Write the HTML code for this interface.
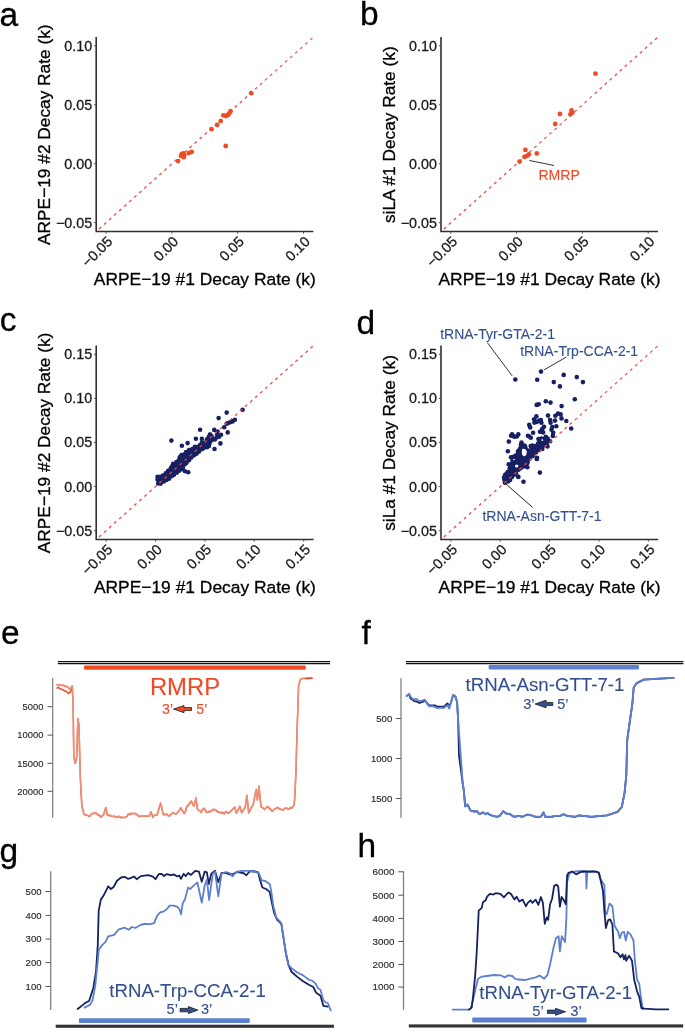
<!DOCTYPE html>
<html><head><meta charset="utf-8"><style>
html,body{margin:0;padding:0;background:#fff;}
svg{display:block;}
svg{will-change:transform;}
svg text{font-family:"Liberation Sans", sans-serif;}
</style></head><body>
<svg width="685" height="1033" viewBox="0 0 685 1033">
<rect width="685" height="1033" fill="#fff"/>
<line x1="96.20" y1="231.50" x2="313.40" y2="37.00" stroke="#F04A42" stroke-width="1.25" stroke-dasharray="3 3.75" stroke-dashoffset="3"/>
<g fill="#EE4A24"><circle cx="251.2" cy="93.2" r="2.4"/><circle cx="230.5" cy="111.2" r="2.4"/><circle cx="229.2" cy="113.4" r="2.4"/><circle cx="227.9" cy="115.0" r="2.4"/><circle cx="225.9" cy="116.0" r="2.4"/><circle cx="223.3" cy="115.3" r="2.4"/><circle cx="220.7" cy="121.1" r="2.4"/><circle cx="217.2" cy="124.9" r="2.4"/><circle cx="211.5" cy="129.2" r="2.4"/><circle cx="225.7" cy="146.0" r="2.4"/><circle cx="191.6" cy="151.9" r="2.4"/><circle cx="188.8" cy="153.1" r="2.4"/><circle cx="181.8" cy="154.1" r="2.4"/><circle cx="183.4" cy="153.5" r="2.4"/><circle cx="181.0" cy="155.9" r="2.4"/><circle cx="183.7" cy="157.2" r="2.4"/><circle cx="184.3" cy="155.1" r="2.4"/><circle cx="178.1" cy="161.1" r="2.4"/></g>
<path d="M96.20 37.00 V231.50 H313.40" fill="none" stroke="#303030" stroke-width="1.6"/>
<line x1="94.00" y1="222.66" x2="96.20" y2="222.66" stroke="#444" stroke-width="0.9"/>
<text x="92.10" y="227.61" font-size="14.3" fill="#1a1a1a" stroke="#1a1a1a" stroke-width="0.3" text-anchor="end">&#8722;0.05</text>
<line x1="94.00" y1="163.72" x2="96.20" y2="163.72" stroke="#444" stroke-width="0.9"/>
<text x="92.10" y="168.67" font-size="14.3" fill="#1a1a1a" stroke="#1a1a1a" stroke-width="0.3" text-anchor="end">0.00</text>
<line x1="94.00" y1="104.78" x2="96.20" y2="104.78" stroke="#444" stroke-width="0.9"/>
<text x="92.10" y="109.73" font-size="14.3" fill="#1a1a1a" stroke="#1a1a1a" stroke-width="0.3" text-anchor="end">0.05</text>
<line x1="94.00" y1="45.84" x2="96.20" y2="45.84" stroke="#444" stroke-width="0.9"/>
<text x="92.10" y="50.79" font-size="14.3" fill="#1a1a1a" stroke="#1a1a1a" stroke-width="0.3" text-anchor="end">0.10</text>
<line x1="106.07" y1="231.50" x2="106.07" y2="233.70" stroke="#444" stroke-width="0.9"/>
<text x="113.37" y="242.40" font-size="14.3" fill="#1a1a1a" stroke="#1a1a1a" stroke-width="0.3" text-anchor="end" transform="rotate(-45 113.37 242.40)">&#8722;0.05</text>
<line x1="171.89" y1="231.50" x2="171.89" y2="233.70" stroke="#444" stroke-width="0.9"/>
<text x="179.19" y="242.40" font-size="14.3" fill="#1a1a1a" stroke="#1a1a1a" stroke-width="0.3" text-anchor="end" transform="rotate(-45 179.19 242.40)">0.00</text>
<line x1="237.71" y1="231.50" x2="237.71" y2="233.70" stroke="#444" stroke-width="0.9"/>
<text x="245.01" y="242.40" font-size="14.3" fill="#1a1a1a" stroke="#1a1a1a" stroke-width="0.3" text-anchor="end" transform="rotate(-45 245.01 242.40)">0.05</text>
<line x1="303.53" y1="231.50" x2="303.53" y2="233.70" stroke="#444" stroke-width="0.9"/>
<text x="310.83" y="242.40" font-size="14.3" fill="#1a1a1a" stroke="#1a1a1a" stroke-width="0.3" text-anchor="end" transform="rotate(-45 310.83 242.40)">0.10</text>
<text x="204.80" y="284.90" font-size="17.4" fill="#000" stroke="#000" stroke-width="0.3" text-anchor="middle" textLength="222" lengthAdjust="spacingAndGlyphs">ARPE&#8722;19 #1 Decay Rate (k)</text>
<text x="50.10" y="134.70" font-size="17.3" fill="#000" stroke="#000" stroke-width="0.3" text-anchor="middle" transform="rotate(-90 50.10 134.70)">ARPE&#8722;19 #2 Decay Rate (k)</text>
<line x1="441.00" y1="231.50" x2="658.00" y2="37.00" stroke="#F04A42" stroke-width="1.25" stroke-dasharray="3 3.75" stroke-dashoffset="3"/>
<g fill="#EE4A24"><circle cx="595.5" cy="73.7" r="2.4"/><circle cx="559.9" cy="114.0" r="2.4"/><circle cx="555.2" cy="124.0" r="2.4"/><circle cx="571.5" cy="110.5" r="2.4"/><circle cx="572.4" cy="112.6" r="2.4"/><circle cx="570.4" cy="114.3" r="2.4"/><circle cx="525.4" cy="149.9" r="2.4"/><circle cx="536.8" cy="153.4" r="2.4"/><circle cx="528.9" cy="154.3" r="2.4"/><circle cx="527.2" cy="155.8" r="2.4"/><circle cx="524.5" cy="156.9" r="2.4"/><circle cx="519.6" cy="161.6" r="2.4"/></g>
<path d="M441.00 37.00 V231.50 H658.00" fill="none" stroke="#303030" stroke-width="1.6"/>
<line x1="438.80" y1="222.66" x2="441.00" y2="222.66" stroke="#444" stroke-width="0.9"/>
<text x="436.90" y="227.61" font-size="14.3" fill="#1a1a1a" stroke="#1a1a1a" stroke-width="0.3" text-anchor="end">&#8722;0.05</text>
<line x1="438.80" y1="163.72" x2="441.00" y2="163.72" stroke="#444" stroke-width="0.9"/>
<text x="436.90" y="168.67" font-size="14.3" fill="#1a1a1a" stroke="#1a1a1a" stroke-width="0.3" text-anchor="end">0.00</text>
<line x1="438.80" y1="104.78" x2="441.00" y2="104.78" stroke="#444" stroke-width="0.9"/>
<text x="436.90" y="109.73" font-size="14.3" fill="#1a1a1a" stroke="#1a1a1a" stroke-width="0.3" text-anchor="end">0.05</text>
<line x1="438.80" y1="45.84" x2="441.00" y2="45.84" stroke="#444" stroke-width="0.9"/>
<text x="436.90" y="50.79" font-size="14.3" fill="#1a1a1a" stroke="#1a1a1a" stroke-width="0.3" text-anchor="end">0.10</text>
<line x1="450.86" y1="231.50" x2="450.86" y2="233.70" stroke="#444" stroke-width="0.9"/>
<text x="458.16" y="242.40" font-size="14.3" fill="#1a1a1a" stroke="#1a1a1a" stroke-width="0.3" text-anchor="end" transform="rotate(-45 458.16 242.40)">&#8722;0.05</text>
<line x1="516.62" y1="231.50" x2="516.62" y2="233.70" stroke="#444" stroke-width="0.9"/>
<text x="523.92" y="242.40" font-size="14.3" fill="#1a1a1a" stroke="#1a1a1a" stroke-width="0.3" text-anchor="end" transform="rotate(-45 523.92 242.40)">0.00</text>
<line x1="582.38" y1="231.50" x2="582.38" y2="233.70" stroke="#444" stroke-width="0.9"/>
<text x="589.68" y="242.40" font-size="14.3" fill="#1a1a1a" stroke="#1a1a1a" stroke-width="0.3" text-anchor="end" transform="rotate(-45 589.68 242.40)">0.05</text>
<line x1="648.14" y1="231.50" x2="648.14" y2="233.70" stroke="#444" stroke-width="0.9"/>
<text x="655.44" y="242.40" font-size="14.3" fill="#1a1a1a" stroke="#1a1a1a" stroke-width="0.3" text-anchor="end" transform="rotate(-45 655.44 242.40)">0.10</text>
<text x="549.50" y="284.90" font-size="17.4" fill="#000" stroke="#000" stroke-width="0.3" text-anchor="middle" textLength="222" lengthAdjust="spacingAndGlyphs">ARPE&#8722;19 #1 Decay Rate (k)</text>
<text x="394.90" y="134.70" font-size="17.3" fill="#000" stroke="#000" stroke-width="0.3" text-anchor="middle" transform="rotate(-90 394.90 134.70)">siLA #1 Decay Rate (k)</text>
<line x1="529.4" y1="160.5" x2="554" y2="165.5" stroke="#333" stroke-width="1"/>
<text x="538.40" y="179.90" font-size="14.1" fill="#EE4A24" stroke="#EE4A24" stroke-width="0.1" text-anchor="start">RMRP</text>
<g fill="#172063"><polygon points="157.3,476.9 158.0,482.6 158.2,483.5 159.4,483.8 160.8,483.6 162.7,482.2 162.8,482.0 165.2,480.5 165.5,480.4 167.8,479.3 168.0,479.2 169.0,478.9 169.8,477.7 169.9,477.5 170.0,477.4 170.2,477.3 170.3,477.1 172.6,475.4 172.8,475.3 172.9,475.2 174.5,474.5 176.0,473.2 176.1,473.2 178.4,471.4 180.4,469.7 180.6,469.6 180.7,469.5 180.9,469.4 181.1,469.3 181.4,469.3 181.6,469.2 181.8,469.2 182.0,469.2 182.2,469.3 182.4,469.3 182.6,469.4 183.2,469.6 183.1,469.5 183.0,469.3 182.9,469.1 182.9,468.9 182.8,468.7 182.8,468.5 182.8,468.3 182.8,468.1 182.9,467.9 182.9,467.7 183.5,466.0 183.6,465.8 183.7,465.6 183.8,465.5 183.9,465.3 184.1,465.2 186.5,462.8 186.6,462.6 188.4,461.1 190.1,458.7 190.3,458.6 190.4,458.4 192.8,456.1 192.9,456.0 193.1,455.9 196.5,453.6 198.7,451.9 201.0,450.0 201.1,449.8 204.1,447.7 204.3,447.6 204.5,447.5 204.7,447.4 207.7,446.5 208.8,445.4 210.4,441.6 210.5,441.4 210.6,441.2 210.8,441.0 211.0,440.9 212.8,439.2 212.8,437.7 211.4,436.3 210.7,436.2 210.0,436.9 208.4,439.6 208.2,439.7 208.1,439.9 207.9,440.1 205.0,442.5 204.8,442.6 204.6,442.7 204.4,442.8 204.2,442.9 204.0,442.9 203.8,443.0 203.6,443.0 203.3,443.0 203.1,442.9 202.0,442.7 201.3,443.7 201.2,443.9 201.1,444.0 198.8,446.4 198.6,446.6 198.5,446.7 198.3,446.8 198.1,446.9 197.9,447.0 197.7,447.0 197.5,447.1 197.3,447.1 197.1,447.1 196.9,447.1 196.7,447.0 196.5,447.0 196.3,446.9 196.1,446.8 195.4,446.4 192.2,449.1 192.1,449.3 191.9,449.4 191.7,449.5 191.6,449.6 191.4,449.6 191.2,449.7 189.4,449.9 187.3,450.4 184.3,454.3 184.2,454.5 184.0,454.6 183.9,454.8 183.7,454.9 183.5,455.0 183.3,455.1 183.0,455.1 182.8,455.2 182.6,455.2 182.4,455.2 182.2,455.1 180.8,454.9 179.7,456.7 179.6,458.7 179.5,458.9 179.5,459.1 179.4,459.3 179.3,459.5 179.2,459.7 179.1,459.9 178.9,460.1 178.7,460.2 176.5,462.0 174.8,463.4 174.6,463.5 174.4,463.6 174.2,463.7 174.0,463.8 173.8,463.8 173.6,463.9 173.4,463.9 173.2,463.9 173.0,463.8 172.5,463.7 172.4,463.8 172.1,466.4 172.0,466.6 172.0,466.8 171.9,467.0 171.8,467.2 171.7,467.4 171.5,467.5 171.4,467.7 169.6,469.4 167.4,471.7 167.3,471.8 164.9,474.1 164.8,474.2 164.7,474.3 163.0,475.5 162.8,475.6 162.5,475.7 159.6,476.9 159.4,477.0 159.2,477.0 159.0,477.1 158.8,477.1 158.5,477.1 157.3,476.9"/><circle cx="157.5" cy="476.9" r="2.3"/><circle cx="157.6" cy="479.7" r="2.3"/><circle cx="158.2" cy="483.5" r="2.3"/><circle cx="160.7" cy="483.6" r="2.3"/><circle cx="163.8" cy="481.5" r="2.3"/><circle cx="166.4" cy="480.0" r="2.3"/><circle cx="169.0" cy="478.8" r="2.3"/><circle cx="171.6" cy="476.2" r="2.3"/><circle cx="173.9" cy="474.8" r="2.3"/><circle cx="176.9" cy="472.6" r="2.3"/><circle cx="179.1" cy="470.8" r="2.3"/><circle cx="181.8" cy="469.2" r="2.3"/><circle cx="183.0" cy="467.5" r="2.3"/><circle cx="184.9" cy="464.3" r="2.3"/><circle cx="186.6" cy="462.7" r="2.3"/><circle cx="189.0" cy="460.3" r="2.3"/><circle cx="191.4" cy="457.5" r="2.3"/><circle cx="194.1" cy="455.2" r="2.3"/><circle cx="196.5" cy="453.7" r="2.3"/><circle cx="198.9" cy="451.8" r="2.3"/><circle cx="201.9" cy="449.3" r="2.3"/><circle cx="203.6" cy="448.1" r="2.3"/><circle cx="207.5" cy="446.5" r="2.3"/><circle cx="209.1" cy="444.6" r="2.3"/><circle cx="210.3" cy="441.8" r="2.3"/><circle cx="212.5" cy="439.5" r="2.3"/><circle cx="211.7" cy="436.6" r="2.3"/><circle cx="209.1" cy="438.4" r="2.3"/><circle cx="207.6" cy="440.3" r="2.3"/><circle cx="204.7" cy="442.7" r="2.3"/><circle cx="201.7" cy="443.1" r="2.3"/><circle cx="199.8" cy="445.3" r="2.3"/><circle cx="197.1" cy="447.1" r="2.3"/><circle cx="194.8" cy="446.9" r="2.3"/><circle cx="192.3" cy="449.1" r="2.3"/><circle cx="189.1" cy="450.0" r="2.3"/><circle cx="186.1" cy="452.0" r="2.3"/><circle cx="184.4" cy="454.3" r="2.3"/><circle cx="181.5" cy="455.0" r="2.3"/><circle cx="179.7" cy="457.4" r="2.3"/><circle cx="178.8" cy="460.2" r="2.3"/><circle cx="176.4" cy="462.1" r="2.3"/><circle cx="173.1" cy="463.9" r="2.3"/><circle cx="172.1" cy="466.2" r="2.3"/><circle cx="170.7" cy="468.4" r="2.3"/><circle cx="168.1" cy="470.9" r="2.3"/><circle cx="165.8" cy="473.2" r="2.3"/><circle cx="163.0" cy="475.5" r="2.3"/><circle cx="160.2" cy="476.7" r="2.3"/><circle cx="242.6" cy="409.7" r="2.3"/><circle cx="226.7" cy="412.6" r="2.3"/><circle cx="218.6" cy="418.1" r="2.3"/><circle cx="234.9" cy="419.7" r="2.3"/><circle cx="232.6" cy="421.4" r="2.3"/><circle cx="230.3" cy="422.3" r="2.3"/><circle cx="228.0" cy="423.0" r="2.3"/><circle cx="226.7" cy="423.7" r="2.3"/><circle cx="224.2" cy="427.3" r="2.3"/><circle cx="227.7" cy="432.4" r="2.3"/><circle cx="214.2" cy="429.9" r="2.3"/><circle cx="217.5" cy="431.5" r="2.3"/><circle cx="221.1" cy="434.8" r="2.3"/><circle cx="219.1" cy="436.8" r="2.3"/><circle cx="216.5" cy="437.5" r="2.3"/><circle cx="214.9" cy="439.4" r="2.3"/><circle cx="217.2" cy="434.2" r="2.3"/><circle cx="210.3" cy="434.8" r="2.3"/><circle cx="208.9" cy="436.8" r="2.3"/><circle cx="220.4" cy="443.4" r="2.3"/><circle cx="214.5" cy="449.0" r="2.3"/><circle cx="207.0" cy="439.4" r="2.3"/><circle cx="206.3" cy="442.7" r="2.3"/><circle cx="208.9" cy="446.0" r="2.3"/><circle cx="207.0" cy="447.3" r="2.3"/><circle cx="200.1" cy="429.7" r="2.3"/><circle cx="195.9" cy="438.7" r="2.3"/><circle cx="201.9" cy="438.9" r="2.3"/><circle cx="187.6" cy="443.1" r="2.3"/><circle cx="181.9" cy="445.7" r="2.3"/><circle cx="171.4" cy="440.6" r="2.3"/><circle cx="210.0" cy="434.6" r="2.3"/><circle cx="185.0" cy="471.2" r="2.3"/><circle cx="188.2" cy="472.3" r="2.3"/></g>
<line x1="96.20" y1="539.50" x2="313.60" y2="345.50" stroke="#F04A42" stroke-width="1.25" stroke-dasharray="3 3.75" stroke-dashoffset="3"/>
<path d="M96.20 345.50 V539.50 H313.60" fill="none" stroke="#303030" stroke-width="1.6"/>
<line x1="94.00" y1="530.68" x2="96.20" y2="530.68" stroke="#444" stroke-width="0.9"/>
<text x="92.10" y="535.63" font-size="14.3" fill="#1a1a1a" stroke="#1a1a1a" stroke-width="0.3" text-anchor="end">&#8722;0.05</text>
<line x1="94.00" y1="486.59" x2="96.20" y2="486.59" stroke="#444" stroke-width="0.9"/>
<text x="92.10" y="491.54" font-size="14.3" fill="#1a1a1a" stroke="#1a1a1a" stroke-width="0.3" text-anchor="end">0.00</text>
<line x1="94.00" y1="442.50" x2="96.20" y2="442.50" stroke="#444" stroke-width="0.9"/>
<text x="92.10" y="447.45" font-size="14.3" fill="#1a1a1a" stroke="#1a1a1a" stroke-width="0.3" text-anchor="end">0.05</text>
<line x1="94.00" y1="398.41" x2="96.20" y2="398.41" stroke="#444" stroke-width="0.9"/>
<text x="92.10" y="403.36" font-size="14.3" fill="#1a1a1a" stroke="#1a1a1a" stroke-width="0.3" text-anchor="end">0.10</text>
<line x1="94.00" y1="354.32" x2="96.20" y2="354.32" stroke="#444" stroke-width="0.9"/>
<text x="92.10" y="359.27" font-size="14.3" fill="#1a1a1a" stroke="#1a1a1a" stroke-width="0.3" text-anchor="end">0.15</text>
<line x1="106.08" y1="539.50" x2="106.08" y2="541.70" stroke="#444" stroke-width="0.9"/>
<text x="113.38" y="550.40" font-size="14.3" fill="#1a1a1a" stroke="#1a1a1a" stroke-width="0.3" text-anchor="end" transform="rotate(-45 113.38 550.40)">&#8722;0.05</text>
<line x1="155.49" y1="539.50" x2="155.49" y2="541.70" stroke="#444" stroke-width="0.9"/>
<text x="162.79" y="550.40" font-size="14.3" fill="#1a1a1a" stroke="#1a1a1a" stroke-width="0.3" text-anchor="end" transform="rotate(-45 162.79 550.40)">0.00</text>
<line x1="204.90" y1="539.50" x2="204.90" y2="541.70" stroke="#444" stroke-width="0.9"/>
<text x="212.20" y="550.40" font-size="14.3" fill="#1a1a1a" stroke="#1a1a1a" stroke-width="0.3" text-anchor="end" transform="rotate(-45 212.20 550.40)">0.05</text>
<line x1="254.31" y1="539.50" x2="254.31" y2="541.70" stroke="#444" stroke-width="0.9"/>
<text x="261.61" y="550.40" font-size="14.3" fill="#1a1a1a" stroke="#1a1a1a" stroke-width="0.3" text-anchor="end" transform="rotate(-45 261.61 550.40)">0.10</text>
<line x1="303.72" y1="539.50" x2="303.72" y2="541.70" stroke="#444" stroke-width="0.9"/>
<text x="311.02" y="550.40" font-size="14.3" fill="#1a1a1a" stroke="#1a1a1a" stroke-width="0.3" text-anchor="end" transform="rotate(-45 311.02 550.40)">0.15</text>
<text x="204.90" y="592.90" font-size="17.4" fill="#000" stroke="#000" stroke-width="0.3" text-anchor="middle" textLength="222" lengthAdjust="spacingAndGlyphs">ARPE&#8722;19 #1 Decay Rate (k)</text>
<text x="50.10" y="442.95" font-size="17.3" fill="#000" stroke="#000" stroke-width="0.3" text-anchor="middle" transform="rotate(-90 50.10 442.95)">ARPE&#8722;19 #2 Decay Rate (k)</text>
<g fill="#172063"><polygon points="504.4,479.9 504.5,479.9 505.0,483.0 505.1,483.0 508.4,481.3 510.6,479.7 511.1,478.1 511.2,477.9 511.3,477.8 511.4,477.6 511.5,477.4 511.7,477.3 515.3,473.6 518.8,469.4 519.0,469.3 519.1,469.1 519.2,469.0 519.4,468.9 524.3,466.1 526.8,462.9 529.7,458.6 529.8,458.4 530.0,458.3 532.9,455.4 535.8,452.5 535.9,452.3 536.0,452.2 539.0,450.0 541.7,448.0 543.3,446.0 543.5,445.9 543.6,445.7 543.8,445.6 544.0,445.5 544.2,445.4 546.2,444.6 548.4,442.0 548.7,440.1 547.2,438.1 545.7,438.6 545.5,438.6 545.3,438.7 541.5,439.2 539.9,441.3 537.8,444.9 537.7,445.1 537.6,445.2 537.4,445.4 533.7,449.0 533.6,449.1 533.4,449.2 533.2,449.3 530.3,450.8 530.1,450.9 529.9,451.0 529.7,451.0 529.5,451.1 529.3,451.1 529.1,451.1 528.9,451.0 528.7,451.0 528.5,450.9 528.3,450.8 528.1,450.7 527.9,450.6 527.8,450.4 525.6,448.2 525.4,448.1 525.3,447.9 525.1,447.6 524.0,445.2 522.5,444.1 521.7,444.5 521.2,446.5 521.2,446.7 521.1,446.8 519.6,450.4 519.5,450.6 519.5,450.7 517.3,454.3 517.2,454.5 517.0,454.7 516.9,454.8 516.7,454.9 516.6,455.0 516.4,455.1 512.7,457.0 512.0,458.5 512.7,460.5 512.8,460.7 512.9,460.9 512.9,461.2 512.9,461.4 512.9,461.6 512.8,461.8 512.8,462.0 512.7,462.2 512.6,462.4 512.5,462.6 512.3,462.8 510.2,465.1 510.0,467.3 509.9,467.5 509.9,467.7 509.8,467.9 508.0,472.3 507.9,472.5 507.8,472.7 507.7,472.9 507.5,473.1 504.9,475.6 504.1,478.2 504.4,479.9"/><circle cx="504.4" cy="479.7" r="2.3"/><circle cx="504.9" cy="482.7" r="2.3"/><circle cx="508.1" cy="481.5" r="2.3"/><circle cx="510.1" cy="480.0" r="2.3"/><circle cx="512.0" cy="476.9" r="2.3"/><circle cx="514.1" cy="474.8" r="2.3"/><circle cx="516.1" cy="472.7" r="2.3"/><circle cx="518.5" cy="469.8" r="2.3"/><circle cx="520.6" cy="468.2" r="2.3"/><circle cx="523.8" cy="466.4" r="2.3"/><circle cx="525.7" cy="464.4" r="2.3"/><circle cx="527.6" cy="461.8" r="2.3"/><circle cx="529.6" cy="458.7" r="2.3"/><circle cx="532.1" cy="456.1" r="2.3"/><circle cx="533.8" cy="454.4" r="2.3"/><circle cx="536.2" cy="452.1" r="2.3"/><circle cx="539.2" cy="449.9" r="2.3"/><circle cx="542.0" cy="447.6" r="2.3"/><circle cx="543.8" cy="445.5" r="2.3"/><circle cx="546.5" cy="444.2" r="2.3"/><circle cx="548.6" cy="441.1" r="2.3"/><circle cx="548.0" cy="439.2" r="2.3"/><circle cx="544.5" cy="438.8" r="2.3"/><circle cx="542.0" cy="439.2" r="2.3"/><circle cx="540.0" cy="441.3" r="2.3"/><circle cx="538.3" cy="444.0" r="2.3"/><circle cx="536.1" cy="446.6" r="2.3"/><circle cx="533.4" cy="449.3" r="2.3"/><circle cx="531.2" cy="450.4" r="2.3"/><circle cx="527.8" cy="450.5" r="2.3"/><circle cx="525.5" cy="448.1" r="2.3"/><circle cx="524.1" cy="445.6" r="2.3"/><circle cx="521.6" cy="444.8" r="2.3"/><circle cx="520.9" cy="447.4" r="2.3"/><circle cx="519.7" cy="450.3" r="2.3"/><circle cx="517.9" cy="453.3" r="2.3"/><circle cx="515.2" cy="455.7" r="2.3"/><circle cx="512.7" cy="457.1" r="2.3"/><circle cx="512.5" cy="459.9" r="2.3"/><circle cx="512.0" cy="463.2" r="2.3"/><circle cx="510.2" cy="465.5" r="2.3"/><circle cx="509.6" cy="468.5" r="2.3"/><circle cx="508.1" cy="472.0" r="2.3"/><circle cx="506.2" cy="474.4" r="2.3"/><circle cx="504.7" cy="476.5" r="2.3"/><circle cx="515.3" cy="379.5" r="2.3"/><circle cx="541.0" cy="371.6" r="2.3"/><circle cx="537.2" cy="379.8" r="2.3"/><circle cx="563.7" cy="374.9" r="2.3"/><circle cx="576.8" cy="377.1" r="2.3"/><circle cx="582.9" cy="382.1" r="2.3"/><circle cx="553.8" cy="382.1" r="2.3"/><circle cx="559.9" cy="386.4" r="2.3"/><circle cx="574.8" cy="399.3" r="2.3"/><circle cx="545.8" cy="401.2" r="2.3"/><circle cx="550.5" cy="402.6" r="2.3"/><circle cx="561.6" cy="406.1" r="2.3"/><circle cx="536.7" cy="404.9" r="2.3"/><circle cx="538.7" cy="404.2" r="2.3"/><circle cx="548.0" cy="415.6" r="2.3"/><circle cx="555.4" cy="415.8" r="2.3"/><circle cx="558.0" cy="413.6" r="2.3"/><circle cx="560.6" cy="414.4" r="2.3"/><circle cx="561.5" cy="418.4" r="2.3"/><circle cx="566.3" cy="421.0" r="2.3"/><circle cx="555.0" cy="420.6" r="2.3"/><circle cx="550.1" cy="420.1" r="2.3"/><circle cx="550.6" cy="422.8" r="2.3"/><circle cx="536.4" cy="416.4" r="2.3"/><circle cx="534.1" cy="419.3" r="2.3"/><circle cx="534.4" cy="422.6" r="2.3"/><circle cx="536.7" cy="421.9" r="2.3"/><circle cx="539.3" cy="420.6" r="2.3"/><circle cx="540.9" cy="420.1" r="2.3"/><circle cx="541.4" cy="422.8" r="2.3"/><circle cx="529.2" cy="424.9" r="2.3"/><circle cx="530.2" cy="427.5" r="2.3"/><circle cx="544.0" cy="426.7" r="2.3"/><circle cx="542.3" cy="428.9" r="2.3"/><circle cx="540.9" cy="431.5" r="2.3"/><circle cx="543.1" cy="432.4" r="2.3"/><circle cx="556.3" cy="426.3" r="2.3"/><circle cx="552.3" cy="427.1" r="2.3"/><circle cx="551.5" cy="429.8" r="2.3"/><circle cx="553.2" cy="432.8" r="2.3"/><circle cx="552.8" cy="435.9" r="2.3"/><circle cx="571.2" cy="428.5" r="2.3"/><circle cx="533.1" cy="432.8" r="2.3"/><circle cx="512.1" cy="434.4" r="2.3"/><circle cx="514.7" cy="436.7" r="2.3"/><circle cx="518.3" cy="434.4" r="2.3"/><circle cx="527.9" cy="435.7" r="2.3"/><circle cx="530.8" cy="437.7" r="2.3"/><circle cx="508.8" cy="441.6" r="2.3"/><circle cx="507.8" cy="451.2" r="2.3"/><circle cx="521.5" cy="442.6" r="2.3"/><circle cx="520.9" cy="445.0" r="2.3"/><circle cx="525.0" cy="446.1" r="2.3"/><circle cx="530.9" cy="446.1" r="2.3"/><circle cx="539.9" cy="472.6" r="2.3"/><circle cx="523.5" cy="481.7" r="2.3"/><circle cx="518.4" cy="477.0" r="2.3"/><circle cx="537.0" cy="458.7" r="2.3"/><circle cx="530.8" cy="446.0" r="2.3"/><circle cx="540.0" cy="431.8" r="2.3"/><circle cx="538.4" cy="439.0" r="2.3"/><circle cx="541.4" cy="438.5" r="2.3"/><circle cx="545.8" cy="436.8" r="2.3"/><circle cx="547.5" cy="438.5" r="2.3"/><circle cx="550.1" cy="441.2" r="2.3"/><circle cx="539.6" cy="441.2" r="2.3"/><circle cx="544.0" cy="441.2" r="2.3"/><circle cx="537.9" cy="443.8" r="2.3"/><circle cx="543.1" cy="443.8" r="2.3"/><circle cx="547.5" cy="446.4" r="2.3"/><circle cx="535.3" cy="446.4" r="2.3"/><circle cx="539.6" cy="447.3" r="2.3"/><circle cx="542.3" cy="449.0" r="2.3"/><circle cx="532.6" cy="445.5" r="2.3"/><circle cx="531.8" cy="449.0" r="2.3"/><circle cx="535.3" cy="452.5" r="2.3"/><circle cx="532.6" cy="456.0" r="2.3"/><circle cx="537.0" cy="457.8" r="2.3"/><circle cx="530.9" cy="452.5" r="2.3"/><circle cx="511.0" cy="457.2" r="2.3"/><circle cx="518.0" cy="451.4" r="2.3"/><circle cx="519.8" cy="449.0" r="2.3"/><circle cx="522.1" cy="447.9" r="2.3"/><circle cx="526.8" cy="450.2" r="2.3"/><circle cx="523.9" cy="453.7" r="2.3"/><circle cx="532.0" cy="453.7" r="2.3"/><circle cx="528.5" cy="456.1" r="2.3"/><circle cx="525.0" cy="459.6" r="2.3"/><circle cx="536.7" cy="459.0" r="2.3"/><circle cx="518.0" cy="457.2" r="2.3"/><circle cx="515.7" cy="459.6" r="2.3"/><circle cx="520.4" cy="461.9" r="2.3"/><circle cx="508.7" cy="464.2" r="2.3"/><circle cx="511.0" cy="467.7" r="2.3"/><circle cx="514.5" cy="465.4" r="2.3"/><circle cx="527.4" cy="463.1" r="2.3"/><circle cx="525.0" cy="465.4" r="2.3"/><circle cx="527.4" cy="467.2" r="2.3"/><circle cx="518.0" cy="476.5" r="2.3"/><circle cx="505.2" cy="474.7" r="2.3"/><circle cx="507.5" cy="472.4" r="2.3"/><circle cx="504.0" cy="477.7" r="2.3"/><circle cx="509.9" cy="477.1" r="2.3"/><circle cx="513.4" cy="473.6" r="2.3"/><circle cx="516.3" cy="470.1" r="2.3"/><circle cx="511.1" cy="435.7" r="2.3"/><circle cx="513.2" cy="436.1" r="2.3"/><circle cx="516.9" cy="436.5" r="2.3"/><circle cx="529.3" cy="436.5" r="2.3"/></g>
<line x1="441.00" y1="539.50" x2="658.20" y2="345.50" stroke="#F04A42" stroke-width="1.25" stroke-dasharray="3 3.75" stroke-dashoffset="3"/>
<path d="M441.00 345.50 V539.50 H658.20" fill="none" stroke="#303030" stroke-width="1.6"/>
<line x1="438.80" y1="530.68" x2="441.00" y2="530.68" stroke="#444" stroke-width="0.9"/>
<text x="436.90" y="535.63" font-size="14.3" fill="#1a1a1a" stroke="#1a1a1a" stroke-width="0.3" text-anchor="end">&#8722;0.05</text>
<line x1="438.80" y1="486.59" x2="441.00" y2="486.59" stroke="#444" stroke-width="0.9"/>
<text x="436.90" y="491.54" font-size="14.3" fill="#1a1a1a" stroke="#1a1a1a" stroke-width="0.3" text-anchor="end">0.00</text>
<line x1="438.80" y1="442.50" x2="441.00" y2="442.50" stroke="#444" stroke-width="0.9"/>
<text x="436.90" y="447.45" font-size="14.3" fill="#1a1a1a" stroke="#1a1a1a" stroke-width="0.3" text-anchor="end">0.05</text>
<line x1="438.80" y1="398.41" x2="441.00" y2="398.41" stroke="#444" stroke-width="0.9"/>
<text x="436.90" y="403.36" font-size="14.3" fill="#1a1a1a" stroke="#1a1a1a" stroke-width="0.3" text-anchor="end">0.10</text>
<line x1="438.80" y1="354.32" x2="441.00" y2="354.32" stroke="#444" stroke-width="0.9"/>
<text x="436.90" y="359.27" font-size="14.3" fill="#1a1a1a" stroke="#1a1a1a" stroke-width="0.3" text-anchor="end">0.15</text>
<line x1="450.87" y1="539.50" x2="450.87" y2="541.70" stroke="#444" stroke-width="0.9"/>
<text x="458.17" y="550.40" font-size="14.3" fill="#1a1a1a" stroke="#1a1a1a" stroke-width="0.3" text-anchor="end" transform="rotate(-45 458.17 550.40)">&#8722;0.05</text>
<line x1="500.24" y1="539.50" x2="500.24" y2="541.70" stroke="#444" stroke-width="0.9"/>
<text x="507.54" y="550.40" font-size="14.3" fill="#1a1a1a" stroke="#1a1a1a" stroke-width="0.3" text-anchor="end" transform="rotate(-45 507.54 550.40)">0.00</text>
<line x1="549.60" y1="539.50" x2="549.60" y2="541.70" stroke="#444" stroke-width="0.9"/>
<text x="556.90" y="550.40" font-size="14.3" fill="#1a1a1a" stroke="#1a1a1a" stroke-width="0.3" text-anchor="end" transform="rotate(-45 556.90 550.40)">0.05</text>
<line x1="598.96" y1="539.50" x2="598.96" y2="541.70" stroke="#444" stroke-width="0.9"/>
<text x="606.26" y="550.40" font-size="14.3" fill="#1a1a1a" stroke="#1a1a1a" stroke-width="0.3" text-anchor="end" transform="rotate(-45 606.26 550.40)">0.10</text>
<line x1="648.33" y1="539.50" x2="648.33" y2="541.70" stroke="#444" stroke-width="0.9"/>
<text x="655.63" y="550.40" font-size="14.3" fill="#1a1a1a" stroke="#1a1a1a" stroke-width="0.3" text-anchor="end" transform="rotate(-45 655.63 550.40)">0.15</text>
<text x="549.60" y="592.90" font-size="17.4" fill="#000" stroke="#000" stroke-width="0.3" text-anchor="middle" textLength="222" lengthAdjust="spacingAndGlyphs">ARPE&#8722;19 #1 Decay Rate (k)</text>
<text x="394.90" y="442.95" font-size="17.3" fill="#000" stroke="#000" stroke-width="0.3" text-anchor="middle" transform="rotate(-90 394.90 442.95)">siLa #1 Decay Rate (k)</text>
<g fill="#fff"><path d="M522.6 448.8 C524.2 448.4 526.2 449.2 526.8 451.6 C527 453.8 526.2 455.8 524.6 456.3 C523 456.5 522 454.9 521.9 453 C521.8 451.2 521.9 449.6 522.6 448.8Z"/><ellipse cx="516.7" cy="466" rx="1.7" ry="1.6"/><circle cx="542.3" cy="440.1" r="0.9"/><circle cx="513.9" cy="459.5" r="0.8"/></g>
<line x1="487.3" y1="342.6" x2="512.2" y2="375.9" stroke="#333" stroke-width="1"/>
<line x1="544.1" y1="369.9" x2="566.3" y2="357" stroke="#333" stroke-width="1"/>
<line x1="505.8" y1="483.9" x2="532.6" y2="507.4" stroke="#222" stroke-width="1"/>
<text x="440.20" y="338.80" font-size="14.0" fill="#33508D" stroke="#33508D" stroke-width="0.1" text-anchor="start" textLength="114.8" lengthAdjust="spacingAndGlyphs">tRNA-Tyr-GTA-2-1</text>
<text x="520.20" y="355.60" font-size="14.0" fill="#33508D" stroke="#33508D" stroke-width="0.1" text-anchor="start" textLength="118.0" lengthAdjust="spacingAndGlyphs">tRNA-Trp-CCA-2-1</text>
<text x="482.40" y="521.20" font-size="14.0" fill="#33508D" stroke="#33508D" stroke-width="0.1" text-anchor="start" textLength="119.2" lengthAdjust="spacingAndGlyphs">tRNA-Asn-GTT-7-1</text>
<line x1="57.8" y1="661.5" x2="330" y2="661.5" stroke="#111" stroke-width="1.25"/>
<line x1="57.8" y1="663.5" x2="330" y2="663.5" stroke="#111" stroke-width="1.25"/>
<rect x="84.1" y="665.4" width="221.7" height="4.4" rx="1" fill="#EE4A24"/>
<line x1="52.7" y1="678" x2="52.7" y2="817.7" stroke="#7a7a7a" stroke-width="1.2"/>
<line x1="47.5" y1="706.7" x2="52.7" y2="706.7" stroke="#555" stroke-width="1"/>
<text x="43.40" y="710.00" font-size="9.4" fill="#2a2a2a" stroke="#2a2a2a" stroke-width="0.15" text-anchor="end">5000</text>
<line x1="47.5" y1="735.1" x2="52.7" y2="735.1" stroke="#555" stroke-width="1"/>
<text x="43.40" y="738.40" font-size="9.4" fill="#2a2a2a" stroke="#2a2a2a" stroke-width="0.15" text-anchor="end">10000</text>
<line x1="47.5" y1="763.3" x2="52.7" y2="763.3" stroke="#555" stroke-width="1"/>
<text x="43.40" y="766.60" font-size="9.4" fill="#2a2a2a" stroke="#2a2a2a" stroke-width="0.15" text-anchor="end">15000</text>
<line x1="47.5" y1="791.3" x2="52.7" y2="791.3" stroke="#555" stroke-width="1"/>
<text x="43.40" y="794.60" font-size="9.4" fill="#2a2a2a" stroke="#2a2a2a" stroke-width="0.15" text-anchor="end">20000</text>
<path d="M57.1 688.0 L58.6 687.6 L60.5 689.0 L62.5 689.6 L64.5 690.8 L66.5 691.5 L68.5 693.5 L70.0 692.3 L71.3 690.5 L72.3 686.5" fill="none" stroke="#EE4A24" stroke-width="1.6" stroke-linejoin="round" stroke-linecap="round" opacity="1"/>
<path d="M57.1 684.6 L58.5 685.5 L60.0 684.8 L62.0 685.6 L63.5 685.2 L65.5 686.6 L67.0 686.2 L68.5 688.0 L70.0 689.0 L71.2 687.5 L72.3 685.8 L73.1 704.0 L73.8 756.4 L75.2 763.6 L76.7 757.8 L77.9 718.6 L78.9 724.4 L80.3 776.7 L81.8 805.8 L84.0 814.3 L85.4 815.0 L86.8 815.1 L88.2 815.8 L89.6 816.5 L91.1 814.4 L92.5 813.4 L94.0 813.8 L95.5 812.7 L96.9 813.8 L98.4 815.4 L99.7 815.5 L101.0 817.2 L102.3 816.1 L103.7 814.4 L105.8 807.5 L107.2 814.6 L108.6 815.7 L110.1 815.2 L111.5 816.3 L112.8 816.4 L114.2 816.5 L115.5 817.1 L116.8 817.6 L118.1 816.5 L119.3 816.4 L120.6 817.8 L121.8 817.7 L123.1 817.5 L124.3 817.5 L125.6 817.2 L126.9 816.5 L128.2 814.0 L129.5 814.8 L130.8 813.9 L132.6 813.5 L134.3 813.4 L135.8 814.1 L137.2 814.9 L138.7 816.2 L140.2 816.6 L141.6 815.7 L143.1 816.1 L144.3 816.3 L145.5 815.9 L146.8 815.9 L148.0 815.9 L149.2 816.2 L151.0 811.8 L152.7 817.2 L154.2 815.4 L155.6 815.0 L157.1 815.0 L158.8 809.3 L160.6 803.7 L161.9 808.3 L163.2 814.6 L164.4 815.0 L165.6 814.2 L166.9 814.5 L168.1 815.8 L169.3 816.1 L171.1 814.5 L172.9 812.5 L174.7 813.7 L176.4 813.8 L177.8 812.3 L179.3 810.6 L180.7 807.8 L182.4 810.8 L184.2 813.5 L185.6 811.2 L186.9 806.3 L188.3 805.7 L189.8 803.4 L191.2 801.4 L192.6 803.8 L193.9 806.0 L196.0 798.1 L197.4 809.1 L198.7 810.4 L200.1 810.9 L201.4 812.5 L202.7 809.5 L204.0 808.8 L205.3 810.1 L206.6 812.6 L207.9 812.1 L209.2 811.9 L210.6 811.6 L211.9 810.7 L213.2 809.4 L214.5 809.5 L216.2 810.5 L218.0 812.3 L219.2 812.0 L220.5 813.1 L221.7 812.9 L223.0 812.8 L224.2 814.0 L225.5 811.5 L226.8 812.2 L228.1 813.3 L229.4 812.5 L230.7 811.4 L232.1 809.9 L233.4 808.8 L234.7 807.1 L236.4 813.2 L238.2 810.2 L239.9 806.1 L241.7 812.7 L243.4 810.1 L245.2 807.5 L246.9 795.2 L248.7 813.1 L250.2 810.1 L251.6 806.9 L253.1 805.3 L254.6 797.2 L256.2 789.4 L257.4 799.9 L258.9 786.3 L261.0 806.9 L262.8 807.8 L264.5 809.4 L266.2 807.6 L268.0 806.5 L269.4 808.7 L270.9 809.7 L272.3 811.5 L273.6 810.1 L275.0 808.5 L276.3 808.4 L277.6 807.5 L279.4 809.1 L281.1 809.4 L282.4 810.1 L283.7 809.7 L285.0 808.4 L286.4 808.2 L287.7 808.8 L289.0 809.2 L290.3 807.8 L291.6 808.2 L292.9 806.7 L294.2 805.0 L295.1 791.3 L296.0 770.0 L297.0 733.8 L298.6 686.0 L300.2 679.6 L302.3 678.5 L303.7 678.5 L305.0 678.4 L306.4 678.4 L307.8 678.4 L309.2 678.4 L310.5 678.3 L311.9 678.3" fill="none" stroke="#E8603E" stroke-width="1.5" stroke-linejoin="round" stroke-linecap="round" opacity="1"/>
<path d="M57.1 684.6 L58.5 685.5 L60.0 684.8 L62.0 685.6 L63.5 685.2 L65.5 686.6 L67.0 686.2 L68.5 688.0 L70.0 689.0 L71.2 687.5 L72.3 685.8 L73.1 704.0 L73.8 756.4 L75.2 763.6 L76.7 757.8 L77.9 718.6 L78.9 724.4 L80.3 776.7 L81.8 805.8 L84.0 814.2 L85.4 814.9 L86.8 815.0 L88.2 815.7 L89.6 816.1 L91.1 814.3 L92.5 813.2 L94.0 813.2 L95.5 813.0 L96.9 813.4 L98.4 814.8 L99.7 815.5 L101.0 817.2 L102.3 815.5 L103.7 814.4 L105.8 807.6 L107.2 814.4 L108.6 815.2 L110.1 815.4 L111.5 816.2 L112.8 816.3 L114.2 815.8 L115.5 816.9 L116.8 816.9 L118.1 816.6 L119.3 816.3 L120.6 817.4 L121.8 816.9 L123.1 817.3 L124.3 817.5 L125.6 817.4 L126.9 816.2 L128.2 814.1 L129.5 814.1 L130.8 813.2 L132.6 813.6 L134.3 813.4 L135.8 813.4 L137.2 814.5 L138.7 815.6 L140.2 816.5 L141.6 815.8 L143.1 816.1 L144.3 815.7 L145.5 815.9 L146.8 815.8 L148.0 815.7 L149.2 816.0 L151.0 811.6 L152.7 816.4 L154.2 815.6 L155.6 815.3 L157.1 814.2 L158.8 808.5 L160.6 802.8 L161.9 808.0 L163.2 813.7 L164.4 814.2 L165.6 814.2 L166.9 813.9 L168.1 815.1 L169.3 815.6 L171.1 814.2 L172.9 812.5 L174.7 813.6 L176.4 813.9 L177.8 812.5 L179.3 810.2 L180.7 807.7 L182.4 810.1 L184.2 813.7 L185.6 810.4 L186.9 805.8 L188.3 804.9 L189.8 802.7 L191.2 800.6 L192.6 803.4 L193.9 806.3 L196.0 797.5 L197.4 809.2 L198.7 810.4 L200.1 810.4 L201.4 812.1 L202.7 809.3 L204.0 808.0 L205.3 809.6 L206.6 812.5 L207.9 812.1 L209.2 811.1 L210.6 811.3 L211.9 810.0 L213.2 809.3 L214.5 809.5 L216.2 810.1 L218.0 811.6 L219.2 812.1 L220.5 812.5 L221.7 812.1 L223.0 812.2 L224.2 813.3 L225.5 811.8 L226.8 811.8 L228.1 812.5 L229.4 812.8 L230.7 811.3 L232.1 809.9 L233.4 808.5 L234.7 806.9 L236.4 813.0 L238.2 809.5 L239.9 806.4 L241.7 812.9 L243.4 810.2 L245.2 807.7 L246.9 795.4 L248.7 812.3 L250.2 809.4 L251.6 807.1 L253.1 805.0 L254.6 797.1 L256.2 789.3 L257.4 799.8 L258.9 785.8 L261.0 806.5 L262.8 807.7 L264.5 809.5 L266.2 807.5 L268.0 806.7 L269.4 808.4 L270.9 809.2 L272.3 811.3 L273.6 810.3 L275.0 808.6 L276.3 808.3 L277.6 807.1 L279.4 808.5 L281.1 809.2 L282.4 809.4 L283.7 809.3 L285.0 808.2 L286.4 808.0 L287.7 808.5 L289.0 808.7 L290.3 807.6 L291.6 807.6 L292.9 806.5 L294.2 805.0 L295.1 791.0 L296.0 770.0 L297.0 733.8 L298.6 686.0 L300.2 679.6 L302.3 678.5 L303.7 678.5 L305.0 678.4 L306.4 678.4 L307.8 678.4 L309.2 678.4 L310.5 678.3 L311.9 678.3" fill="none" stroke="#EF8E76" stroke-width="1.5" stroke-linejoin="round" stroke-linecap="round" opacity="1"/>
<path d="M306.0 678.3 L311.9 678.3" fill="none" stroke="#EE4A24" stroke-width="1.6" stroke-linejoin="round" stroke-linecap="round" opacity="1"/>
<text x="149.90" y="694.70" font-size="23.85" fill="#EE4A24" stroke="#EE4A24" stroke-width="0.1" text-anchor="start">RMRP</text>
<text x="162.00" y="713.70" font-size="14.2" fill="#EE4A24" stroke="#EE4A24" stroke-width="0.1" text-anchor="start">3&#8217;</text>
<text x="196.30" y="713.70" font-size="14.2" fill="#EE4A24" stroke="#EE4A24" stroke-width="0.1" text-anchor="start">5&#8217;</text>
<polygon points="191.5,707.6 184.0,707.6 184.0,705.5 173.5,709.1 184.0,712.7 184.0,710.6 191.5,710.6" fill="#EE4A24" stroke="#1a1a1a" stroke-width="0.8" stroke-linejoin="miter"/>
<line x1="406" y1="661.5" x2="683.4" y2="661.5" stroke="#111" stroke-width="1.25"/>
<line x1="406" y1="663.5" x2="683.4" y2="663.5" stroke="#111" stroke-width="1.25"/>
<rect x="488.6" y="664.9" width="150.4" height="4.7" rx="1" fill="#5C80CE"/>
<line x1="401" y1="678.3" x2="401" y2="817.7" stroke="#7a7a7a" stroke-width="1.2"/>
<line x1="395.8" y1="718.5" x2="401" y2="718.5" stroke="#555" stroke-width="1"/>
<text x="392.30" y="721.80" font-size="9.6" fill="#2a2a2a" stroke="#2a2a2a" stroke-width="0.15" text-anchor="end">500</text>
<line x1="395.8" y1="758.5" x2="401" y2="758.5" stroke="#555" stroke-width="1"/>
<text x="392.30" y="761.80" font-size="9.6" fill="#2a2a2a" stroke="#2a2a2a" stroke-width="0.15" text-anchor="end">1000</text>
<line x1="395.8" y1="798.5" x2="401" y2="798.5" stroke="#555" stroke-width="1"/>
<text x="392.30" y="801.80" font-size="9.6" fill="#2a2a2a" stroke="#2a2a2a" stroke-width="0.15" text-anchor="end">1500</text>
<path d="M406.7 695.9 L409.0 694.1 L410.4 698.3 L414.1 701.1 L417.0 701.6 L419.3 703.0 L422.6 702.0 L424.9 700.6 L429.1 705.3 L434.7 705.3 L437.5 706.7 L444.1 706.7 L447.3 703.4 L449.7 706.2 L451.1 702.0 L453.2 695.0 L455.3 696.4 L457.1 702.0 L458.1 719.8 L459.0 755.7 L462.7 783.4 L463.8 790.5 L465.2 806.3 L467.3 804.5 L470.8 810.7 L474.3 811.5 L476.9 811.2 L479.5 814.2 L483.0 812.4 L485.7 814.2 L487.4 812.9 L490.0 815.0 L497.0 816.8 L499.7 815.9 L503.2 811.2 L505.8 813.3 L510.2 814.2 L513.7 816.8 L519.0 815.9 L522.4 816.8 L526.8 814.7 L530.3 815.0 L535.6 816.8 L540.8 816.8 L543.5 812.4 L545.2 816.8 L551.4 816.8 L555.7 815.9 L560.1 815.9 L563.6 814.2 L567.1 815.9 L575.0 816.8 L579.0 815.4 L591.3 816.8 L607.0 815.4 L617.6 811.9 L621.9 806.7 L624.6 792.6 L626.3 775.1 L627.2 740.1 L628.9 727.8 L632.4 703.3 L633.7 687.5 L636.8 683.1 L643.8 679.6 L656.1 678.8 L673.6 677.9" fill="none" stroke="#16225E" stroke-width="1.8" stroke-linejoin="round" stroke-linecap="round" opacity="1"/>
<path d="M406.7 695.9 L409.0 694.1 L410.9 697.3 L413.2 699.2 L417.0 699.2 L418.4 700.6 L420.7 701.1 L424.9 699.7 L427.2 703.9 L429.1 706.2 L432.8 706.2 L437.5 708.1 L441.3 707.6 L443.6 708.1 L445.9 706.2 L447.8 705.3 L449.2 708.6 L451.1 702.0 L453.2 695.0 L455.3 696.4 L457.1 702.0 L458.1 719.8 L462.7 783.4 L463.8 790.5 L465.2 806.3 L467.3 804.5 L470.8 810.7 L474.3 811.5 L476.9 811.2 L479.5 814.2 L483.0 812.4 L485.7 814.2 L487.4 812.9 L490.0 815.0 L497.0 816.8 L499.7 815.9 L503.2 811.2 L505.8 813.3 L510.2 814.2 L513.7 816.8 L519.0 815.9 L522.4 816.8 L526.8 814.7 L530.3 815.0 L535.6 816.8 L540.8 816.8 L543.5 812.4 L545.2 816.8 L551.4 816.8 L555.7 815.9 L560.1 815.9 L563.6 814.2 L567.1 815.9 L575.0 816.8 L579.0 815.4 L591.3 816.8 L607.0 815.4 L617.6 811.9 L621.9 806.7 L624.6 792.6 L626.3 775.1 L627.2 740.1 L628.9 727.8 L632.4 703.3 L633.7 687.5 L636.8 683.1 L643.8 679.6 L656.1 678.8 L673.6 677.9" fill="none" stroke="#5C80CE" stroke-width="1.9" stroke-linejoin="round" stroke-linecap="round" opacity="1"/>
<text x="465.60" y="691.40" font-size="18.7" fill="#33508D" stroke="#33508D" stroke-width="0.1" text-anchor="start" textLength="158.9" lengthAdjust="spacingAndGlyphs">tRNA-Asn-GTT-7-1</text>
<text x="523.30" y="708.50" font-size="14.5" fill="#33508D" stroke="#33508D" stroke-width="0.1" text-anchor="start">3&#8217;</text>
<text x="557.30" y="708.50" font-size="14.5" fill="#33508D" stroke="#33508D" stroke-width="0.1" text-anchor="start">5&#8217;</text>
<polygon points="552.8,702.4 546.1,702.4 546.1,700.2 535.1,704.0 546.1,707.8 546.1,705.6 552.8,705.6" fill="#33508D" stroke="#1a1a1a" stroke-width="0.8" stroke-linejoin="miter"/>
<rect x="55.7" y="1024.7" width="278.2" height="3.1" fill="#333"/>
<rect x="78.9" y="1018.2" width="170.8" height="4.7" rx="1" fill="#5C80CE"/>
<line x1="50.7" y1="871.2" x2="50.7" y2="1010.1" stroke="#7a7a7a" stroke-width="1.2"/>
<line x1="45.5" y1="891.5" x2="50.7" y2="891.5" stroke="#555" stroke-width="1"/>
<text x="41.60" y="894.80" font-size="9.6" fill="#2a2a2a" stroke="#2a2a2a" stroke-width="0.15" text-anchor="end">500</text>
<line x1="45.5" y1="915.4" x2="50.7" y2="915.4" stroke="#555" stroke-width="1"/>
<text x="41.60" y="918.70" font-size="9.6" fill="#2a2a2a" stroke="#2a2a2a" stroke-width="0.15" text-anchor="end">400</text>
<line x1="45.5" y1="939" x2="50.7" y2="939" stroke="#555" stroke-width="1"/>
<text x="41.60" y="942.30" font-size="9.6" fill="#2a2a2a" stroke="#2a2a2a" stroke-width="0.15" text-anchor="end">300</text>
<line x1="45.5" y1="962.6" x2="50.7" y2="962.6" stroke="#555" stroke-width="1"/>
<text x="41.60" y="965.90" font-size="9.6" fill="#2a2a2a" stroke="#2a2a2a" stroke-width="0.15" text-anchor="end">200</text>
<line x1="45.5" y1="986.5" x2="50.7" y2="986.5" stroke="#555" stroke-width="1"/>
<text x="41.60" y="989.80" font-size="9.6" fill="#2a2a2a" stroke="#2a2a2a" stroke-width="0.15" text-anchor="end">100</text>
<path d="M77.7 1009.0 L84.5 1003.6 L89.2 1000.8 L93.3 988.0 L96.0 971.7 L97.8 944.6 L98.7 910.7 L100.8 899.8 L104.2 894.4 L108.2 886.3 L110.9 889.0 L113.6 887.0 L117.0 880.8 L121.1 877.5 L124.5 876.8 L127.9 878.8 L130.6 878.1 L134.0 876.5 L136.7 879.2 L140.8 876.1 L148.2 875.2 L152.9 876.7 L155.5 879.2 L158.8 874.1 L161.7 873.8 L163.9 876.0 L166.8 874.1 L170.4 875.2 L174.1 874.5 L177.0 876.4 L179.2 875.5 L181.0 878.9 L183.6 873.8 L185.8 876.0 L188.2 873.0 L190.9 874.9 L195.3 870.8 L198.9 871.6 L201.8 881.8 L204.7 871.6 L206.9 872.3 L208.8 884.0 L211.3 873.8 L215.0 870.8 L218.3 882.2 L221.5 873.0 L225.9 873.0 L229.6 874.5 L233.2 873.8 L237.6 872.0 L243.4 873.0 L246.4 875.2 L249.4 871.5 L253.7 871.1 L258.1 872.3 L260.3 881.0 L262.4 887.5 L266.1 889.0 L269.7 891.9 L271.9 902.8 L274.1 912.9 L277.0 919.5 L281.3 923.8 L283.5 937.6 L285.7 952.2 L288.6 965.2 L291.5 971.8 L297.3 976.9 L303.1 981.2 L308.9 984.8 L313.3 987.0 L316.2 992.8 L320.5 995.7 L323.4 1005.9 L327.8 1006.6" fill="none" stroke="#16225E" stroke-width="1.8" stroke-linejoin="round" stroke-linecap="round" opacity="1"/>
<path d="M84.5 1007.6 L89.9 1004.9 L92.6 1000.2 L95.3 985.3 L97.4 964.9 L98.7 950.0 L101.4 945.9 L105.5 941.9 L108.2 936.4 L114.3 934.8 L118.4 929.7 L124.5 927.6 L128.6 929.7 L132.0 927.0 L135.3 928.0 L141.4 924.5 L144.8 924.0 L150.0 924.1 L154.1 923.1 L157.3 915.4 L160.2 912.4 L163.9 911.4 L166.8 909.1 L169.7 905.6 L173.4 905.6 L177.0 906.6 L179.2 908.8 L181.0 914.3 L182.8 903.0 L185.0 899.3 L188.0 887.6 L190.1 889.1 L193.8 885.4 L197.4 882.5 L201.8 902.7 L204.7 885.4 L206.9 879.6 L209.1 900.0 L212.8 873.8 L215.0 871.6 L218.3 896.4 L221.5 873.8 L225.9 872.0 L229.6 873.0 L232.5 876.4 L236.1 872.0 L242.0 870.8 L250.0 870.8 L258.8 873.0 L261.7 880.3 L265.3 881.0 L269.7 883.9 L271.1 890.4 L273.3 905.7 L276.2 917.3 L281.3 923.1 L283.5 937.6 L286.4 956.5 L288.6 965.2 L291.5 968.1 L297.3 972.5 L303.1 975.4 L308.9 979.8 L311.8 980.5 L315.5 983.4 L317.6 987.7 L320.5 989.9 L323.4 1000.1 L325.6 1002.3 L327.8 1003.0 L330.7 1010.3" fill="none" stroke="#5C80CE" stroke-width="1.8" stroke-linejoin="round" stroke-linecap="round" opacity="1"/>
<text x="109.30" y="997.00" font-size="18.65" fill="#33508D" stroke="#33508D" stroke-width="0.1" text-anchor="start" textLength="156.7" lengthAdjust="spacingAndGlyphs">tRNA-Trp-CCA-2-1</text>
<text x="166.60" y="1014.40" font-size="14.5" fill="#33508D" stroke="#33508D" stroke-width="0.1" text-anchor="start">5&#8217;</text>
<text x="200.90" y="1014.40" font-size="14.5" fill="#33508D" stroke="#33508D" stroke-width="0.1" text-anchor="start">3&#8217;</text>
<polygon points="180.1,1008.4 188.4,1008.4 188.4,1006.6 197.9,1010.1 188.4,1013.6 188.4,1011.8 180.1,1011.8" fill="#33508D" stroke="#1a1a1a" stroke-width="0.8" stroke-linejoin="miter"/>
<rect x="408.8" y="1024.4" width="274.4" height="3.1" fill="#333"/>
<rect x="472.2" y="1017.6" width="114.4" height="5" rx="1" fill="#5C80CE"/>
<line x1="403.5" y1="871.2" x2="403.5" y2="1009.7" stroke="#7a7a7a" stroke-width="1.2"/>
<line x1="398.3" y1="871.8" x2="403.5" y2="871.8" stroke="#555" stroke-width="1"/>
<text x="394.40" y="875.10" font-size="9.8" fill="#2a2a2a" stroke="#2a2a2a" stroke-width="0.15" text-anchor="end">6000</text>
<line x1="398.3" y1="895.2" x2="403.5" y2="895.2" stroke="#555" stroke-width="1"/>
<text x="394.40" y="898.50" font-size="9.8" fill="#2a2a2a" stroke="#2a2a2a" stroke-width="0.15" text-anchor="end">5000</text>
<line x1="398.3" y1="918.4" x2="403.5" y2="918.4" stroke="#555" stroke-width="1"/>
<text x="394.40" y="921.70" font-size="9.8" fill="#2a2a2a" stroke="#2a2a2a" stroke-width="0.15" text-anchor="end">4000</text>
<line x1="398.3" y1="941.5" x2="403.5" y2="941.5" stroke="#555" stroke-width="1"/>
<text x="394.40" y="944.80" font-size="9.8" fill="#2a2a2a" stroke="#2a2a2a" stroke-width="0.15" text-anchor="end">3000</text>
<line x1="398.3" y1="964.5" x2="403.5" y2="964.5" stroke="#555" stroke-width="1"/>
<text x="394.40" y="967.80" font-size="9.8" fill="#2a2a2a" stroke="#2a2a2a" stroke-width="0.15" text-anchor="end">2000</text>
<line x1="398.3" y1="987.1" x2="403.5" y2="987.1" stroke="#555" stroke-width="1"/>
<text x="394.40" y="990.40" font-size="9.8" fill="#2a2a2a" stroke="#2a2a2a" stroke-width="0.15" text-anchor="end">1000</text>
<path d="M452.7 1009.6 L468.9 1009.6 L471.0 1008.2 L474.5 993.5 L478.0 978.8 L481.5 976.7 L487.1 976.0 L494.1 975.0 L501.1 975.3 L504.6 977.4 L508.2 975.3 L512.4 976.0 L515.2 978.8 L518.0 979.5 L525.2 980.0 L530.5 978.7 L535.7 977.4 L539.6 975.5 L544.2 978.7 L547.5 974.8 L550.1 964.3 L553.3 948.7 L555.9 938.2 L558.6 936.2 L559.9 951.3 L561.8 936.2 L565.1 942.1 L566.4 917.3 L567.1 882.0 L569.7 872.8 L574.9 871.5 L582.7 870.9 L586.0 871.5 L586.4 888.5 L587.3 872.2 L593.2 871.5 L599.1 873.0 L600.8 879.5 L604.4 885.3 L605.2 912.9 L606.6 914.4 L609.5 903.5 L612.4 906.4 L614.6 926.0 L618.2 931.8 L619.7 938.3 L621.9 932.5 L624.0 931.8 L625.8 940.5 L627.7 931.8 L630.6 934.7 L633.5 940.5 L634.9 960.8 L637.1 979.7 L639.3 984.0 L640.7 995.6 L642.9 1009.4" fill="none" stroke="#5C80CE" stroke-width="1.8" stroke-linejoin="round" stroke-linecap="round" opacity="1"/>
<path d="M468.9 1009.6 L471.7 1007.5 L473.1 996.3 L475.2 975.3 L476.6 954.2 L478.0 926.1 L478.7 910.7 L481.8 907.9 L482.9 902.3 L485.7 900.2 L487.1 896.7 L489.9 893.9 L493.4 894.6 L495.5 893.2 L500.4 893.9 L503.9 897.4 L508.2 892.5 L511.0 893.9 L514.5 899.5 L516.6 896.7 L519.4 901.6 L522.6 899.6 L525.9 906.2 L527.8 902.9 L530.5 900.3 L532.4 902.9 L535.7 899.6 L538.3 904.9 L540.9 897.0 L542.9 902.9 L544.8 923.8 L546.8 917.3 L548.1 919.9 L550.1 904.2 L552.0 899.0 L554.2 885.9 L556.6 884.6 L558.2 886.6 L559.9 906.8 L561.6 897.0 L563.1 899.0 L565.8 904.2 L567.1 875.5 L568.4 872.8 L572.3 871.5 L576.2 874.4 L580.1 872.2 L585.4 871.5 L590.6 871.5 L595.8 871.5 L598.6 872.3 L600.8 881.0 L603.0 891.1 L604.4 911.5 L605.9 928.1 L608.1 920.2 L610.2 919.4 L612.4 924.5 L613.9 951.4 L618.2 953.5 L620.4 957.2 L622.6 954.3 L624.0 959.4 L625.5 955.0 L626.2 960.8 L629.1 955.7 L632.0 960.8 L634.2 979.7 L637.1 991.3 L639.3 997.1 L641.4 1008.0 L644.4 1008.7 L656.0 1009.4 L668.3 1009.4" fill="none" stroke="#16225E" stroke-width="1.8" stroke-linejoin="round" stroke-linecap="round" opacity="1"/>
<text x="479.30" y="999.00" font-size="18.65" fill="#33508D" stroke="#33508D" stroke-width="0.1" text-anchor="start" textLength="152.8" lengthAdjust="spacingAndGlyphs">tRNA-Tyr-GTA-2-1</text>
<text x="532.20" y="1016.00" font-size="14.8" fill="#33508D" stroke="#33508D" stroke-width="0.1" text-anchor="start">5&#8217;</text>
<text x="570.20" y="1016.00" font-size="14.8" fill="#33508D" stroke="#33508D" stroke-width="0.1" text-anchor="start">3&#8217;</text>
<polygon points="547.4,1010.1 555.5,1010.1 555.5,1008.3 565.5,1011.8 555.5,1015.3 555.5,1013.4 547.4,1013.4" fill="#33508D" stroke="#1a1a1a" stroke-width="0.8" stroke-linejoin="miter"/>
<text x="-0.50" y="25.70" font-size="33.5" fill="#000" stroke="#000" stroke-width="0.3" text-anchor="start">a</text>
<text x="359.90" y="25.40" font-size="33.5" fill="#000" stroke="#000" stroke-width="0.3" text-anchor="start">b</text>
<text x="-0.30" y="330.50" font-size="33.5" fill="#000" stroke="#000" stroke-width="0.3" text-anchor="start">c</text>
<text x="356.40" y="333.70" font-size="33.5" fill="#000" stroke="#000" stroke-width="0.3" text-anchor="start">d</text>
<text x="0.90" y="643.70" font-size="33.5" fill="#000" stroke="#000" stroke-width="0.3" text-anchor="start">e</text>
<text x="361.60" y="644.20" font-size="33.5" fill="#000" stroke="#000" stroke-width="0.3" text-anchor="start">f</text>
<text x="-0.40" y="862.00" font-size="33.5" fill="#000" stroke="#000" stroke-width="0.3" text-anchor="start">g</text>
<text x="357.40" y="856.50" font-size="33.5" fill="#000" stroke="#000" stroke-width="0.3" text-anchor="start">h</text>
</svg></body></html>
